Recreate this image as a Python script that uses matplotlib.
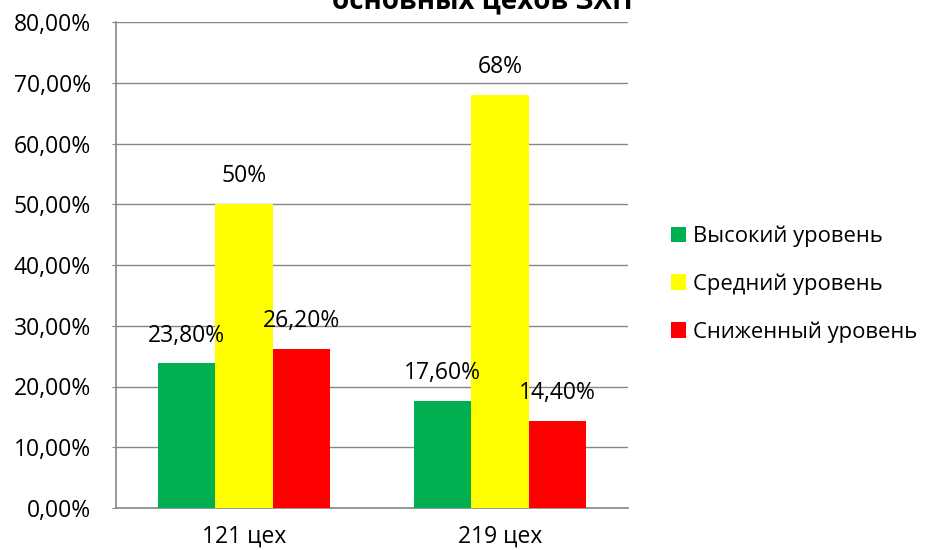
import numpy as np
import matplotlib.pyplot as plt

categories = ['121 цех', '219 цех']
series = ['Высокий уровень', 'Средний уровень', 'Сниженный уровень']
values = [
    [23.8, 17.6],
    [50.0, 68.0],
    [26.2, 14.4],
]
labels = [
    ['23,80%', '17,60%'],
    ['50%', '68%'],
    ['26,20%', '14,40%'],
]
colors = ['#00b050', '#ffff00', '#ff0000']
yticks = [0, 10, 20, 30, 40, 50, 60, 70, 80]
ytick_labels = ['0,00%', '10,00%', '20,00%', '30,00%', '40,00%', '50,00%', '60,00%', '70,00%', '80,00%']
title = 'основных цехов ЗХП'

plt.rcParams['font.family'] = ['Open Sans', 'DejaVu Sans']
fs = 16.5

fig = plt.figure(figsize=(9.28, 5.5), dpi=100)
ax = fig.add_axes([116 / 928, 42 / 550, 512 / 928, 486 / 550])

x = np.arange(len(categories))
w = 0.223
for i, (name, vals) in enumerate(zip(series, values)):
    pos = x + (i - 1) * w
    ax.bar(pos, vals, width=w, color=colors[i], label=name, zorder=3)
    for px, v, t in zip(pos, vals, labels[i]):
        ax.annotate(t, (px, v), xytext=(0, 20), textcoords='offset points',
                    ha='center', va='center', fontsize=fs, zorder=4)

ax.set_xlim(-0.5, 1.5)
ax.set_ylim(0, 80)
ax.set_yticks(yticks)
ax.set_yticklabels(ytick_labels, fontsize=fs)
ax.set_xticks(x)
ax.set_xticklabels(categories, fontsize=fs)
ax.tick_params(axis='x', length=0, pad=12)
ax.tick_params(axis='y', length=3, color='#868686', pad=15)
ax.grid(axis='y', color='#868686', linewidth=1, zorder=0)
for s in ['top', 'right']:
    ax.spines[s].set_visible(False)
for s in ['left', 'bottom']:
    ax.spines[s].set_color('#868686')
    ax.spines[s].set_linewidth(1.2)

# title is cut off at the top edge in the reference
fig.text(482 / 928, 1.0 - 8 / 550, title, ha='center', va='baseline',
         fontsize=20, fontweight='bold')

ax.legend(loc='center left', bbox_to_anchor=(671 / 928, 1 - 284 / 550),
          bbox_transform=fig.transFigure, frameon=False, fontsize=15.8,
          borderpad=0, borderaxespad=0,
          handlelength=0.7, handleheight=0.7, handletextpad=0.3,
          labelspacing=1.2)

fig.savefig('out.png', dpi=100)
